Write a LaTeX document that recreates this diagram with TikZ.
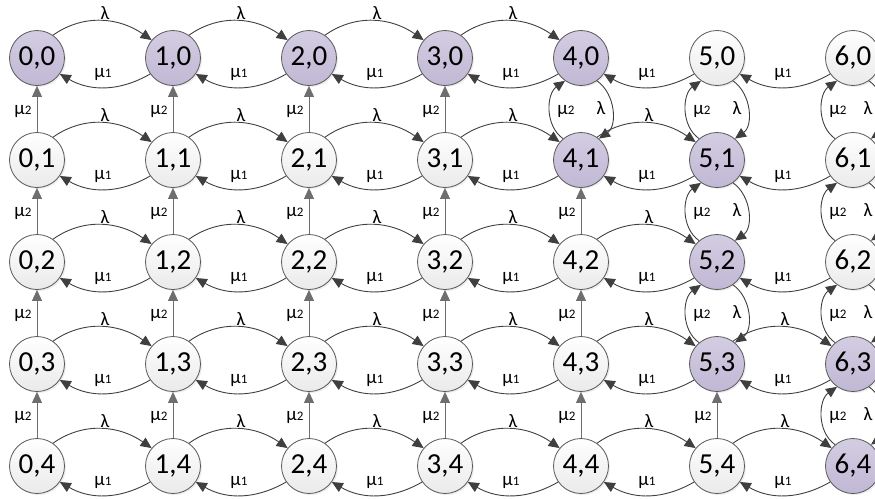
\documentclass[tikz,border=0pt]{standalone}
\usepackage{fontspec}
\setmainfont{Carlito}
\usetikzlibrary{arrows.meta,shadows}
\definecolor{edgec}{HTML}{3F3F3F}
\definecolor{vertc}{HTML}{6E6E6E}
\definecolor{bordc}{HTML}{595959}
\definecolor{purtop}{HTML}{D3CDE2}
\definecolor{purbot}{HTML}{C1B8D5}
\definecolor{whtop}{HTML}{FFFFFF}
\definecolor{whbot}{HTML}{EAEAEA}
\tikzset{
  state/.style={circle, minimum size=55pt, inner sep=0pt, draw=bordc, line width=0.8pt,
    font=\fontsize{29}{30}\selectfont,
    drop shadow={opacity=0.15, shadow xshift=1.5pt, shadow yshift=-1.5pt}},
  whitest/.style={state, top color=whtop, bottom color=whbot},
  purplest/.style={state, top color=purtop, bottom color=purbot},
  arr/.style={draw=edgec, line width=0.9pt, -{Triangle[length=11pt,width=10pt]}},
  varr/.style={arr, draw=vertc},
  lab/.style={font=\fontsize{19}{19}\selectfont, inner sep=0pt}
}
\newcommand{\muone}{μ{\fontsize{13}{13}\selectfont 1}}
\newcommand{\mutwo}{μ{\fontsize{13}{13}\selectfont 2}}
\begin{document}
\begin{tikzpicture}[x=1pt,y=-1pt]
\useasboundingbox (0,0) rectangle (875,498);
\clip (0,0) rectangle (875,498);
% nodes
\foreach \i/\j in {0/0,1/0,2/0,3/0,4/0,4/1,5/1,5/2,5/3,6/3,6/4}
  \node[purplest] (n\i\j) at ({37+136*\i},{58+102*\j}) {\i,\j};
\foreach \i/\j in {5/0,6/0,0/1,1/1,2/1,3/1,6/1,0/2,1/2,2/2,3/2,4/2,6/2,0/3,1/3,2/3,3/3,4/3,0/4,1/4,2/4,3/4,4/4,5/4}
  \node[whitest] (n\i\j) at ({37+136*\i},{58+102*\j}) {\i,\j};
% horizontal lambda arcs
\foreach \i/\j in {0/0,1/0,2/0,3/0,0/1,1/1,2/1,3/1,4/1,0/2,1/2,2/2,3/2,4/2,0/3,1/3,2/3,3/3,4/3,5/3,0/4,1/4,2/4,3/4,4/4,5/4}{
  \pgfmathtruncatemacro\k{\i+1}
  \draw[arr] (n\i\j.55) to[out=35,in=145] (n\k\j.140);
  \node[lab] at ({105+136*\i},{13+102*\j}) {λ};
}
% horizontal mu1 arcs
\foreach \i in {0,...,5}{
  \foreach \j in {0,...,4}{
    \pgfmathtruncatemacro\k{\i+1}
    \draw[arr] (n\k\j.215) to[out=-150,in=-30] (n\i\j.-35);
    \node[lab] at ({103+136*\i},{74+102*\j}) {\muone};
  }
}
% vertical straight mu2
\foreach \i/\j in {0/0,0/1,0/2,0/3,1/0,1/1,1/2,1/3,2/0,2/1,2/2,2/3,3/0,3/1,3/2,3/3,4/1,4/2,4/3,5/3}{
  \pgfmathtruncatemacro\k{\j+1}
  \draw[varr] (n\i\k) -- (n\i\j);
  \node[lab] at ({23+136*\i},{111+102*\j}) {\mutwo};
}
% vertical curved pairs
\foreach \i/\j/\lx in {4/0/57,5/0/57,5/1/57,5/2/57,6/0/52,6/1/52,6/2/52,6/3/52}{
  \pgfmathtruncatemacro\k{\j+1}
  \draw[arr] (n\i\k.130) to[out=145,in=215] (n\i\j.235);
  \draw[arr] (n\i\j.305) to[out=-35,in=35] (n\i\k.50);
  \node[lab] at ({22+136*\i},{111+102*\j}) {\mutwo};
  \node[lab] at ({\lx+136*\i},{108+102*\j}) {λ};
}
\end{tikzpicture}
\end{document}
